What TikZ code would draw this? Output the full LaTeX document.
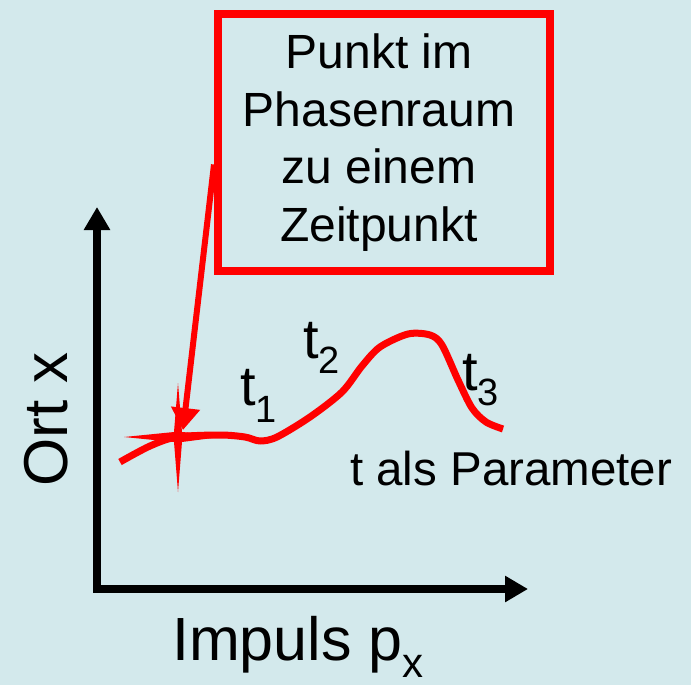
\documentclass[tikz,border=0pt]{standalone}
\usepackage{fontspec}
\setmainfont{Liberation Sans}
\usetikzlibrary{arrows.meta}
\definecolor{hintergrund}{RGB}{211,233,236}
\definecolor{rot}{RGB}{255,0,0}
\newcommand{\fs}[1]{\fontsize{#1}{#1}\selectfont}

\begin{document}
\begin{tikzpicture}[x=1pt,y=-1pt,
    achse/.style={line width=8pt, {Triangle[length=23pt,width=25pt]}-{Triangle[length=23pt,width=25pt]}},
    bahn/.style={rot, line width=7pt, line join=round, line cap=butt},
    zeiger/.style={rot, line width=6pt, -{Triangle[length=22pt,width=28pt]}},
    marke/.style={anchor=base west, inner sep=0pt}]
    % Background
    \fill[hintergrund] (0,0) rectangle (691,685);
    \useasboundingbox (0,0) rectangle (691,685);

    % Axes
    \coordinate (xende) at (528,589);
    \coordinate (yende) at (97,207);
    \draw[achse] (yende) |- (xende);
    \node[marke, font=\fs{61}] (impuls) at (172,660) {Impuls p\raisebox{-17pt}{\fs{42}x}};
    \node[marke, font=\fs{62}, rotate=90] (ort) at (67,487) {Ort x};

    % Trajectory
    \draw[bahn] plot[smooth, tension=0.5] coordinates {
        (120,462) (150,446) (177,437) (220,435) (245,437) (260,441) (277,437)
        (310,417) (342,392) (362,366) (380,347) (408,334) (430,335) (442,345)
        (458,380) (472,408) (486,422) (503,429)};

    % Marked point
    \coordinate (punkt) at (178,437);
    \fill[rot] (178,383) -- (182,432) -- (228,436) -- (182,442) -- (178,492)
        -- (174,442) -- (124,437) -- (174,432) -- cycle;

    % Time labels
    \node[marke, font=\fs{56}] (t1) at (240,405) {t\raisebox{-17pt}{\fs{38}1}};
    \node[marke, font=\fs{56}] (t2) at (303,358) {t\raisebox{-15pt}{\fs{38}2}};
    \node[marke, font=\fs{56}] (t3) at (462,390) {t\raisebox{-15pt}{\fs{38}3}};
    \node[marke, font=\fs{47.5}] (param) at (350,485) {t als Parameter};

    % Callout
    \node[draw=rot, line width=8pt, inner sep=0pt, minimum width=332pt,
        minimum height=257pt] (kasten) at (384,142.5) {};
    \node[align=center, font=\fontsize{48}{57.5}\selectfont]
        (text) at ([xshift=-5pt]kasten.center) {Punkt im\\Phasenraum\\zu einem\\Zeitpunkt};
    \coordinate (ziel) at (183,430);
    \draw[zeiger] ([yshift=-22pt]kasten.west) -- (ziel);
\end{tikzpicture}
\end{document}
